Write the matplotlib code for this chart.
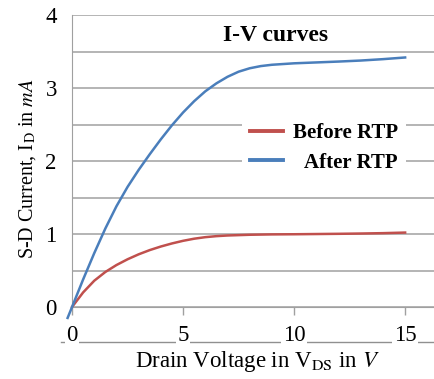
import matplotlib
matplotlib.use("Agg")
import matplotlib.pyplot as plt

plt.rcParams['font.family'] = ['Liberation Serif', 'DejaVu Serif']
plt.rcParams['mathtext.fontset'] = 'stix'

# drain voltage (V) and S-D current (mA)
v_before = [0, 0.5, 1, 1.5, 2, 2.5, 3, 3.5, 4, 4.5, 5, 5.5, 6, 6.5, 7, 8, 9, 10, 11, 12, 13, 14, 15]
i_before = [0, 0.20, 0.36, 0.48, 0.575, 0.654, 0.722, 0.78, 0.829, 0.871, 0.907, 0.936, 0.957,
            0.971, 0.98, 0.99, 0.995, 0.997, 1.0, 1.003, 1.007, 1.012, 1.02]

v_after = [-0.2, 0, 0.5, 1, 1.5, 2, 2.5, 3, 3.5, 4, 4.5, 5, 5.5, 6, 6.5, 7, 7.5, 8, 8.5, 9,
           10, 11, 12, 13, 14, 15]
i_after = [-0.15, 0, 0.378, 0.738, 1.076, 1.381, 1.646, 1.879, 2.094, 2.299, 2.491, 2.666,
           2.821, 2.956, 3.065, 3.155, 3.225, 3.272, 3.302, 3.32, 3.34, 3.352, 3.364, 3.378,
           3.397, 3.42]

x_ticks = [0, 5, 10, 15]
y_ticks = [0, 1, 2, 3, 4]

fig = plt.figure(figsize=(4.34, 3.79), dpi=100)
ax = fig.add_axes([0.166, 0.19, 0.834, 0.770])

ax.plot(v_before, i_before, color='#c0504d', lw=1.8, label='Before RTP', clip_on=False, zorder=3)
ax.plot(v_after, i_after, color='#4a7ebb', lw=1.8, label='After RTP', clip_on=False, zorder=3)

ax.set_xlim(0, 16.3)
ax.set_ylim(0, 4)
ax.set_xticks(x_ticks)
ax.set_yticks(y_ticks)
ax.set_yticks([0.5, 1.5, 2.5, 3.5], minor=True)
ax.grid(True, which='both', axis='y', color='#a0a0a0', lw=1.1)
ax.set_axisbelow(True)

for s in ['top', 'right']:
    ax.spines[s].set_visible(False)
ax.spines['left'].set_color('#a0a0a0')
ax.spines['bottom'].set_color('#a0a0a0')

ax.tick_params(axis='y', which='both', length=0, pad=11, labelsize=16.5)
ax.tick_params(axis='x', length=6, width=1, color='#a0a0a0', pad=7, labelsize=16.5)
for t in ax.get_xticklabels():
    t.set_bbox(dict(facecolor='white', edgecolor='none', pad=1))

# underline running along the x tick labels
ax.plot([-0.03, 1.0], [-0.12, -0.12], transform=ax.transAxes, color='#909090',
        lw=1, clip_on=False, zorder=0)

ax.set_xlabel('Drain Voltage in V$_\\mathrm{DS}$ in $V$', fontsize=16.5)
ax.xaxis.set_label_coords(0.511, -0.145)
ax.set_ylabel('S-D Current, I$_\\mathrm{D}$ in $mA$', fontsize=14.5)
ax.yaxis.set_label_coords(-0.095, 0.475)

ax.text(0.563, 0.932, 'I-V curves', transform=ax.transAxes, ha='center', va='center',
        fontsize=17, fontweight='bold')

leg = ax.legend(loc='center left', bbox_to_anchor=(0.47, 0.545), frameon=True,
                facecolor='white', edgecolor='none', framealpha=1, fancybox=False,
                prop={'weight': 'bold', 'size': 15}, handlelength=1.55,
                handletextpad=0.48, labelspacing=0.45, borderpad=0.4, borderaxespad=0)
for line in leg.get_lines():
    line.set_linewidth(2.8)

# right-align legend texts
fig.canvas.draw()
widths = [t.get_window_extent().width for t in leg.get_texts()]
for t, wi in zip(leg.get_texts(), widths):
    t.set_ha('right')
    t.set_position((max(widths) - wi, 0))

fig.savefig('out.png', dpi=100)
